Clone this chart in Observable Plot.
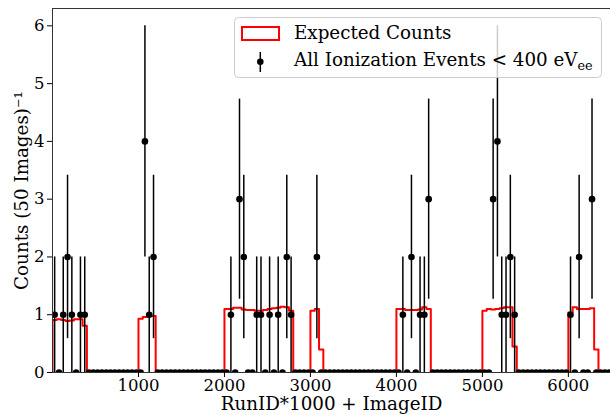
<!DOCTYPE html>
<html><head><meta charset="utf-8">
<script src="https://cdn.jsdelivr.net/npm/d3@7"></script>
<script src="https://cdn.jsdelivr.net/npm/@observablehq/plot@0.6"></script>
<style>
body{margin:0;background:#fff;}
#wrap{position:relative;width:610px;height:415px;overflow:hidden;}
#legend{position:absolute;left:234px;top:17px;}
</style></head><body>
<div id="wrap"><div id="chart"></div>
<svg id="legend" width="368" height="61" font-family="DejaVu Serif" font-size="18.3">
  <rect x="0.5" y="0.5" width="367" height="60" rx="4" fill="white" fill-opacity="0.8" stroke="#cccccc"/>
  <rect x="8" y="10" width="37" height="13" fill="none" stroke="red" stroke-width="2"/>
  <text x="60" y="22.3">Expected Counts</text>
  <line x1="26.3" x2="26.3" y1="35" y2="55" stroke="black" stroke-width="1.5"/>
  <circle cx="26.3" cy="44.7" r="3.3" fill="black"/>
  <text x="60" y="49">All Ionization Events &lt; 400 eV<tspan font-size="12.8" dy="4">ee</tspan></text>
</svg>
</div>
<script>
// bin width in RunID*1000 + ImageID units (50 images per bin)
const binWidth = 50;
// observed counts per 50-image bin (bin i covers [50i, 50i+50))
const counts = [
  1,0,1,2,1,0,1,1,0,0,
  0,0,0,0,0,0,0,0,0,0,
  0,4,1,2,0,0,0,0,0,0,
  0,0,0,0,0,0,0,0,0,0,
  0,1,0,3,2,0,0,1,1,0,
  1,0,1,0,2,1,0,0,0,0,
  0,2,0,0,0,0,0,0,0,0,
  0,0,0,0,0,0,0,0,0,0,
  0,1,0,2,0,1,1,3,0,0,
  0,0,0,0,0,0,0,0,0,0,
  0,0,3,4,1,1,2,1,0,0,
  0,0,0,0,0,0,0,0,0,0,
  1,0,2,0,0,3,0,0,0,0
];
// expected counts per bin
const expected = [
  0.91,0.92,0.91,0.89,0.90,0.92,0.92,0.81,0,0,
  0,0,0,0,0,0,0,0,0,0,
  0.93,0.96,0.98,0.98,0,0,0,0,0,0,
  0,0,0,0,0,0,0,0,0,0,
  1.10,1.10,1.12,1.12,1.09,1.08,1.08,1.07,1.07,1.08,
  1.10,1.11,1.12,1.14,1.13,1.07,0,0,0,0,
  1.07,1.10,0.40,0,0,0,0,0,0,0,
  0,0,0,0,0,0,0,0,0,0,
  1.10,1.10,1.08,1.08,1.08,1.09,1.13,1.10,0,0,
  0,0,0,0,0,0,0,0,0,0,
  1.07,1.10,1.09,1.10,1.11,1.13,1.13,0.45,0,0,
  0,0,0,0,0,0,0,0,0,0,
  1.04,1.13,1.10,1.10,1.10,1.11,0.40,0,0,0
];
const xTicks = [1000, 2000, 3000, 4000, 5000, 6000];
const yTicks = [0, 1, 2, 3, 4, 5, 6];
const xDomain = [0, 6490];
const yDomain = [0, 6.3];
const xLabel = "RunID*1000 + ImageID";
const yLabel = "Counts (50 Images)⁻¹";

const points = counts.map((c, i) => ({x: i * binWidth + binWidth / 2, y: c, lo: c - Math.sqrt(c), hi: c + Math.sqrt(c)}));
const steps = [{x: 0, y: 0}]
  .concat(expected.map((e, i) => ({x: i * binWidth, y: e})))
  .concat([{x: expected.length * binWidth, y: expected[expected.length - 1]}]);

const chart = Plot.plot({
  width: 610,
  height: 415,
  marginLeft: 52,
  marginRight: 0,
  marginTop: 8,
  marginBottom: 43,
  style: {fontFamily: "DejaVu Serif", fontSize: "16.5px", color: "black", background: "white"},
  x: {domain: xDomain},
  y: {domain: yDomain},
  marks: [
    Plot.line(steps, {x: "x", y: "y", curve: "step-after", stroke: "red", strokeWidth: 2, clip: true}),
    Plot.ruleX(points.filter(d => d.y > 0), {x: "x", y1: "lo", y2: "hi", stroke: "black", strokeWidth: 1.5}),
    Plot.dot(points, {x: "x", y: "y", r: 3.3, fill: "black", clip: true}),
    Plot.ruleX([xDomain[0]], {stroke: "#333", strokeWidth: 1}),
    Plot.ruleY([yDomain[0]], {stroke: "#333", strokeWidth: 1}),
    Plot.ruleY([yDomain[1]], {stroke: "#333", strokeWidth: 1}),
    Plot.axisX({ticks: xTicks, tickFormat: "d", tickSize: 5, tickPadding: 2, label: null}),
    Plot.axisY({ticks: yTicks, tickFormat: "d", tickSize: 5, tickPadding: 3, label: null}),
    Plot.text([xLabel], {text: d => d, frameAnchor: "bottom", textAnchor: "middle", lineAnchor: "middle", dy: 32, fontSize: 18.3, fill: "black"}),
    Plot.text([yLabel], {text: d => d, frameAnchor: "left", textAnchor: "middle", lineAnchor: "middle", rotate: -90, dx: -30, fontSize: 18.3, fill: "black"})
  ]
});
document.getElementById("chart").appendChild(chart);
</script>
</body></html>
